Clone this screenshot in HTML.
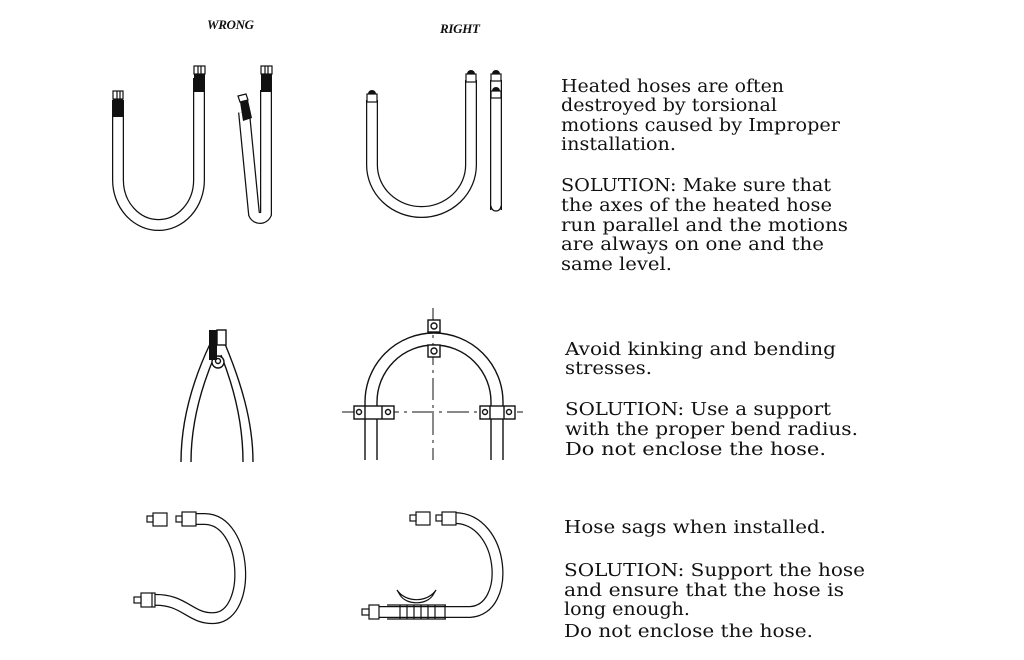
<!DOCTYPE html>
<html><head><meta charset="utf-8"><style>
html,body{margin:0;padding:0;background:#fff;}
svg{display:block;}
text{fill:#111;}
.t{font-family:"DejaVu Serif","Liberation Serif",serif;font-size:17.5px;}
.h{font-family:"Liberation Serif",serif;}
</style></head><body>
<svg width="1024" height="660" viewBox="0 0 1024 660" xmlns="http://www.w3.org/2000/svg">
<g fill="none" stroke-linecap="butt">
<g stroke="#111" stroke-width="12">
<path d="M118,100 V180 A40.5,45 0 0 0 199,180 V78"/>
<path d="M244,112 L254,214 A6.5,6.5 0 0 0 266,214 V90"/>
<path d="M372,100 V165 A49.5,47 0 0 0 471,165 V80"/>
<path d="M496,80 V210"/>
<path d="M152,600 C185,598 190,620 215,618 C252,615 248,520 205,519 L188,519"/>
<path d="M378,612 L470,612 C512,610 505,519 455,518 L445,518"/>
</g>
<g stroke="#fff" stroke-width="9.5">
<path d="M118,100 V180 A40.5,45 0 0 0 199,180 V78"/>
<path d="M244,112 L254,214 A6.5,6.5 0 0 0 266,214 V90"/>
<path d="M372,100 V165 A49.5,47 0 0 0 471,165 V80"/>
<path d="M496,80 V210"/>
<path d="M152,600 C185,598 190,620 215,618 C252,615 248,520 205,519 L188,519"/>
<path d="M378,612 L470,612 C512,610 505,519 455,518 L445,518"/>
</g>
<path d="M491,206 A5,5 0 0 0 501,206" stroke="#111" stroke-width="1.3"/>
<g stroke="#111" stroke-width="1.2">
<rect x="113" y="91" width="10" height="8" fill="#fff"/><line x1="117" y1="91" x2="117" y2="99"/><line x1="120" y1="91" x2="120" y2="99"/>
<rect x="194" y="66" width="11" height="8" fill="#fff"/><line x1="198" y1="66" x2="198" y2="74"/><line x1="201" y1="66" x2="201" y2="74"/>
<rect x="261" y="66" width="11" height="8" fill="#fff"/><line x1="265" y1="66" x2="265" y2="74"/><line x1="268" y1="66" x2="268" y2="74"/>
<polygon points="238,96 246,94 248,100 240,102" fill="#fff"/>
</g>
<rect x="113" y="99" width="10" height="18" fill="#111"/>
<rect x="194" y="74" width="11" height="18" fill="#111"/>
<rect x="261" y="74" width="11" height="18" fill="#111"/>
<polygon points="240,102 248,100 252,118 243,121" fill="#111"/>
<g stroke="#111" stroke-width="1.2" fill="#fff">
<rect x="367" y="94" width="10" height="8"/><rect x="466" y="74" width="10" height="8"/>
<rect x="491" y="74" width="10" height="7"/><rect x="491" y="91" width="10" height="7"/>
</g>
<g fill="#111"><path d="M368,94 a4,4 0 0 1 8,0z"/><path d="M467,74 a4,4 0 0 1 8,0z"/><path d="M492,74 a4,4 0 0 1 8,0z"/><path d="M492,91 a4,4 0 0 1 8,0z"/></g>
<g stroke="#111" stroke-width="1.4">
<path d="M210,344 C193,380 181,420 181,462"/><path d="M215,355 C200,390 191,425 191,462"/>
<path d="M225,344 C240,380 253,420 253,462"/><path d="M221,355 C235,390 243,425 243,462"/>
<rect x="217" y="330" width="9" height="15" fill="#fff"/>
<circle cx="218" cy="362" r="6" fill="#fff"/><circle cx="218" cy="361" r="2.5"/>
</g>
<rect x="209" y="330" width="8" height="30" fill="#111"/>
<g stroke="#111" stroke-width="1.4">
<path d="M365,460 V402 A69,69 0 0 1 503,402 V460"/>
<path d="M377,460 V402 A57,57 0 0 1 491,402 V460"/>
<path d="M342,412 H523 M433,308 V460" stroke-dasharray="22,5,3,5" stroke-width="1"/>
<rect x="428" y="320" width="12" height="12" fill="#fff"/><circle cx="434" cy="326" r="3"/>
<rect x="428" y="345" width="12" height="12" fill="#fff"/><circle cx="434" cy="351" r="3"/>
<rect x="354" y="406" width="40" height="13" fill="#fff"/><line x1="365" y1="406" x2="365" y2="419"/><line x1="382" y1="406" x2="382" y2="419"/><circle cx="359" cy="412" r="2.5"/><circle cx="388" cy="412" r="2.5"/>
<rect x="480" y="406" width="35" height="13" fill="#fff"/><line x1="490" y1="406" x2="490" y2="419"/><line x1="504" y1="406" x2="504" y2="419"/><circle cx="485" cy="412" r="2.5"/><circle cx="509" cy="412" r="2.5"/>
</g>
<g stroke="#111" stroke-width="1.2" fill="#fff">
<rect x="141" y="593" width="14" height="14"/><rect x="134" y="597" width="7" height="6"/><line x1="152" y1="593" x2="152" y2="607"/>
<rect x="153" y="513" width="14" height="13"/><rect x="147" y="516" width="6" height="6"/>
<rect x="182" y="512" width="14" height="14"/><rect x="176" y="516" width="6" height="6"/>
<rect x="416" y="512" width="14" height="13"/><rect x="410" y="515" width="6" height="6"/>
<rect x="442" y="512" width="14" height="13"/><rect x="436" y="515" width="6" height="6"/>
<rect x="369" y="605" width="10" height="14"/><rect x="362" y="609" width="7" height="6"/>
<path d="M397,590 A22,18 0 0 0 436,590 L433,595 A18,13 0 0 1 400,595 Z"/>
<path d="M387,605 L446,605 M387,619 L446,619"/>
<path d="M400,605 V619 M407,605 V619 M414,605 V619 M421,605 V619 M428,605 V619 M435,605 V619 M445,605 V619"/>
</g>
</g>
<text class="h" x="207" y="29" font-size="13" font-style="italic" font-weight="bold" textLength="47">WRONG</text>
<text class="h" x="440" y="33" font-size="13" font-style="italic" font-weight="bold" textLength="40">RIGHT</text>
<g class="t" lengthAdjust="spacingAndGlyphs">
<text x="561" y="92" textLength="223" lengthAdjust="spacingAndGlyphs">Heated hoses are often</text>
<text x="561" y="111" textLength="216" lengthAdjust="spacingAndGlyphs">destroyed by torsional</text>
<text x="561" y="131" textLength="279" lengthAdjust="spacingAndGlyphs">motions caused by Improper</text>
<text x="561" y="150" textLength="115" lengthAdjust="spacingAndGlyphs">installation.</text>
<text x="561" y="191" textLength="270" lengthAdjust="spacingAndGlyphs">SOLUTION: Make sure that</text>
<text x="561" y="211" textLength="271" lengthAdjust="spacingAndGlyphs">the axes of the heated hose</text>
<text x="561" y="231" textLength="287" lengthAdjust="spacingAndGlyphs">run parallel and the motions</text>
<text x="561" y="250" textLength="263" lengthAdjust="spacingAndGlyphs">are always on one and the</text>
<text x="561" y="270" textLength="111" lengthAdjust="spacingAndGlyphs">same level.</text>
<text x="565" y="355" textLength="271" lengthAdjust="spacingAndGlyphs">Avoid kinking and bending</text>
<text x="565" y="374" textLength="87" lengthAdjust="spacingAndGlyphs">stresses.</text>
<text x="565" y="415" textLength="266" lengthAdjust="spacingAndGlyphs">SOLUTION: Use a support</text>
<text x="565" y="435" textLength="293" lengthAdjust="spacingAndGlyphs">with the proper bend radius.</text>
<text x="565" y="455" textLength="261" lengthAdjust="spacingAndGlyphs">Do not enclose the hose.</text>
<text x="564" y="533" textLength="262" lengthAdjust="spacingAndGlyphs">Hose sags when installed.</text>
<text x="564" y="576" textLength="301" lengthAdjust="spacingAndGlyphs">SOLUTION: Support the hose</text>
<text x="564" y="596" textLength="280" lengthAdjust="spacingAndGlyphs">and ensure that the hose is</text>
<text x="564" y="615" textLength="126" lengthAdjust="spacingAndGlyphs">long enough.</text>
<text x="564" y="637" textLength="249" lengthAdjust="spacingAndGlyphs">Do not enclose the hose.</text>
</g>
</svg>
</body></html>
